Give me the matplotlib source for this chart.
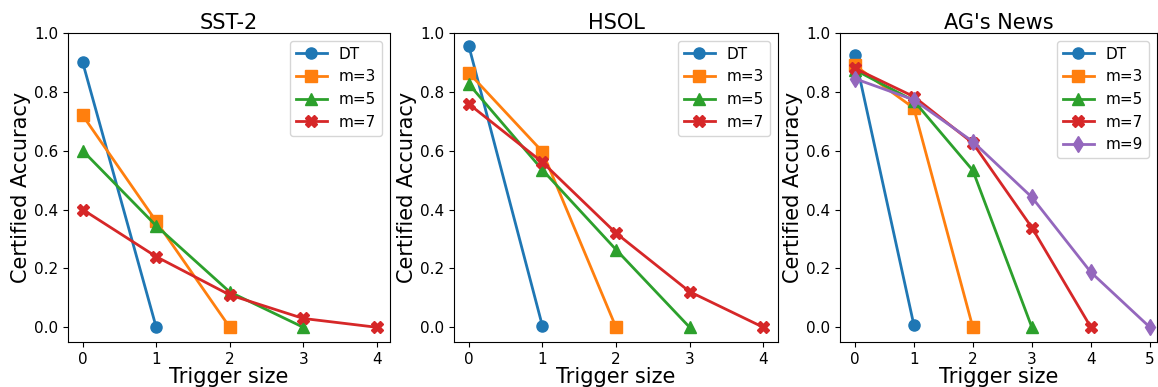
import matplotlib
matplotlib.use("Agg")
import matplotlib.pyplot as plt

# SST-2
sst_dt = [0.90, 0.0]
sst_m3 = [0.72, 0.36, 0.0]
sst_m5 = [0.60, 0.345, 0.12, 0.0]
sst_m7 = [0.40, 0.24, 0.11, 0.03, 0.0]

# HSOL
hsol_dt = [0.957, 0.005]
hsol_m3 = [0.865, 0.597, 0.0]
hsol_m5 = [0.827, 0.535, 0.264, 0.0]
hsol_m7 = [0.759, 0.561, 0.320, 0.121, 0.0]

# AG's News
ag_dt = [0.925, 0.009]
ag_m3 = [0.89, 0.745, 0.0]
ag_m5 = [0.875, 0.77, 0.533, 0.0]
ag_m7 = [0.88, 0.784, 0.626, 0.339, 0.0]
ag_m9 = [0.845, 0.773, 0.631, 0.442, 0.187, 0.0]

titles = ["SST-2", "HSOL", "AG's News"]
labels = ["DT", "m=3", "m=5", "m=7", "m=9"]
markers = ["o", "s", "^", "X", "d"]
colors = ["tab:blue", "tab:orange", "tab:green", "tab:red", "tab:purple"]

panels = [
    [sst_dt, sst_m3, sst_m5, sst_m7],
    [hsol_dt, hsol_m3, hsol_m5, hsol_m7],
    [ag_dt, ag_m3, ag_m5, ag_m7, ag_m9],
]

W, H = 1158, 387
fig = plt.figure(figsize=(W / 100, H / 100), dpi=100)

# axes boxes in pixels: left, right, top, bottom
boxes = [(68, 390, 33, 342), (454, 778, 33, 342), (840, 1157, 33, 342)]
xlims = [(-0.2, 4.18), (-0.2, 4.2), (-0.25, 5.12)]

for i, series in enumerate(panels):
    l, r, t, b = boxes[i]
    ax = fig.add_axes([l / W, 1 - b / H, (r - l) / W, (b - t) / H])
    for j, ys in enumerate(series):
        ax.plot(range(len(ys)), ys, marker=markers[j], color=colors[j],
                label=labels[j], linewidth=2, markersize=8)
    ax.set_title(titles[i], fontsize=15, pad=3)
    ax.set_xlabel("Trigger size", fontsize=15, labelpad=0)
    ax.set_ylabel("Certified Accuracy", fontsize=15, labelpad=2)
    ax.set_xlim(*xlims[i])
    ax.set_ylim(-0.05, 1.0)
    ax.set_xticks(range(len(series[-1])))
    ax.set_yticks([0.0, 0.2, 0.4, 0.6, 0.8, 1.0])
    ax.tick_params(labelsize=11)
    ax.legend(loc="upper right", fontsize=11)

fig.savefig("out.png", dpi=100)
